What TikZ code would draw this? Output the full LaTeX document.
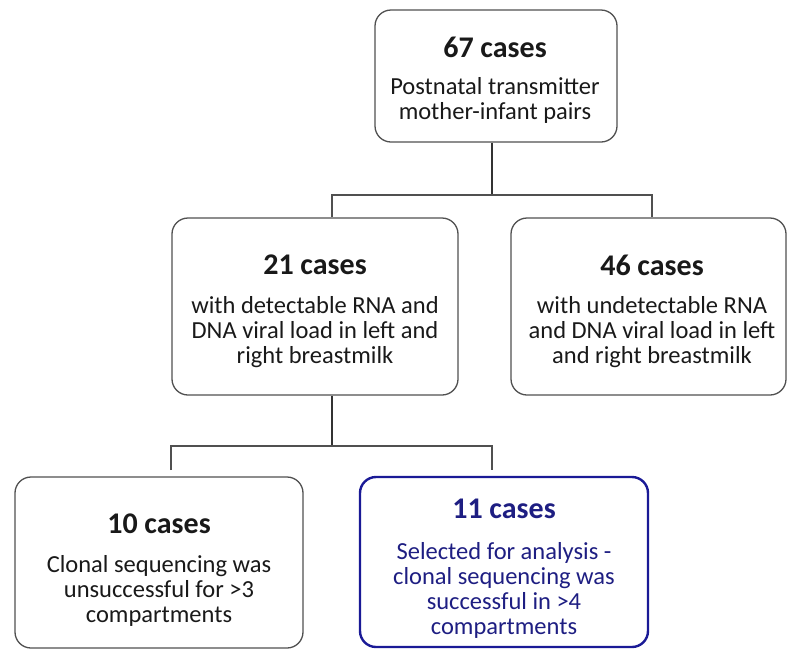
\documentclass[tikz,border=0pt]{standalone}
\usepackage{fontspec}
\setmainfont{Carlito}
\definecolor{boxgray}{RGB}{80,80,80}
\definecolor{selblue}{RGB}{26,26,150}
\definecolor{seltext}{RGB}{30,30,130}
\begin{document}
\begin{tikzpicture}[x=1pt,y=-1pt,
  casebox/.style={draw=boxgray,line width=1.3pt,rounded corners=16pt,inner sep=0pt},
  selbox/.style={draw=selblue,line width=2.4pt,rounded corners=16pt,inner sep=0pt},
  ttl/.style={font=\fontsize{30}{31}\selectfont\bfseries,text=black!90,inner sep=0pt},
  bodytext/.style={font=\fontsize{24.5}{25}\selectfont,text=black!90,align=center,inner sep=0pt},
  link/.style={draw=boxgray,line width=1.4pt},
  trunk/.style={draw=black!80,line width=2.2pt}]
\useasboundingbox (0,0) rectangle (788,649);
% boxes
\node[casebox,minimum width=242pt,minimum height=132pt] (top) at (496,76) {};
\node[casebox,minimum width=286pt,minimum height=177pt] (midl) at (315,306.5) {};
\node[casebox,minimum width=275pt,minimum height=177pt] (midr) at (648.5,306.5) {};
\node[casebox,minimum width=288pt,minimum height=171pt] (botl) at (159,562.5) {};
\node[selbox,minimum width=288pt,minimum height=170pt] (botr) at (504,562) {};
% texts
\node[ttl] (t67) at (495,47) {67 cases};
\node[bodytext] (b67) at (495,100) {Postnatal transmitter\\mother-infant pairs};
\node[ttl] (t21) at (315,265) {21 cases};
\node[bodytext] (b21) at (315,332) {with detectable RNA and\\DNA viral load in left and\\right breastmilk};
\node[ttl] (t46) at (652,265) {46 cases};
\node[bodytext] (b46) at (652,332) {with undetectable RNA\\and DNA viral load in left\\and right breastmilk};
\node[ttl] (t10) at (159,524) {10 cases};
\node[bodytext] (b10) at (159,591) {Clonal sequencing was\\unsuccessful for >3\\compartments};
\node[ttl,text=seltext] (t11) at (504,509) {11 cases};
\node[bodytext,text=seltext] (b11) at (504,590) {Selected for analysis -\\clonal sequencing was\\successful in >4\\compartments};
% connectors
\coordinate (j1) at (492,195);
\coordinate (j1l) at (332,195);
\coordinate (j1r) at (652,195);
\coordinate (j2) at (332,446);
\coordinate (j2l) at (171,446);
\coordinate (j2r) at (492,446);
\coordinate (d2l) at (171,470);
\coordinate (d2r) at (492,470);
\draw[trunk] (top.south -| j1) -- (j1);
\draw[link] (j1l |- midl.north) -- (j1l) -- (j1r) -- (j1r |- midr.north);
\draw[trunk] (midl.south -| j2) -- (j2);
\draw[link] (d2l) -- (j2l) -- (j2r) -- (d2r);
\end{tikzpicture}
\end{document}
